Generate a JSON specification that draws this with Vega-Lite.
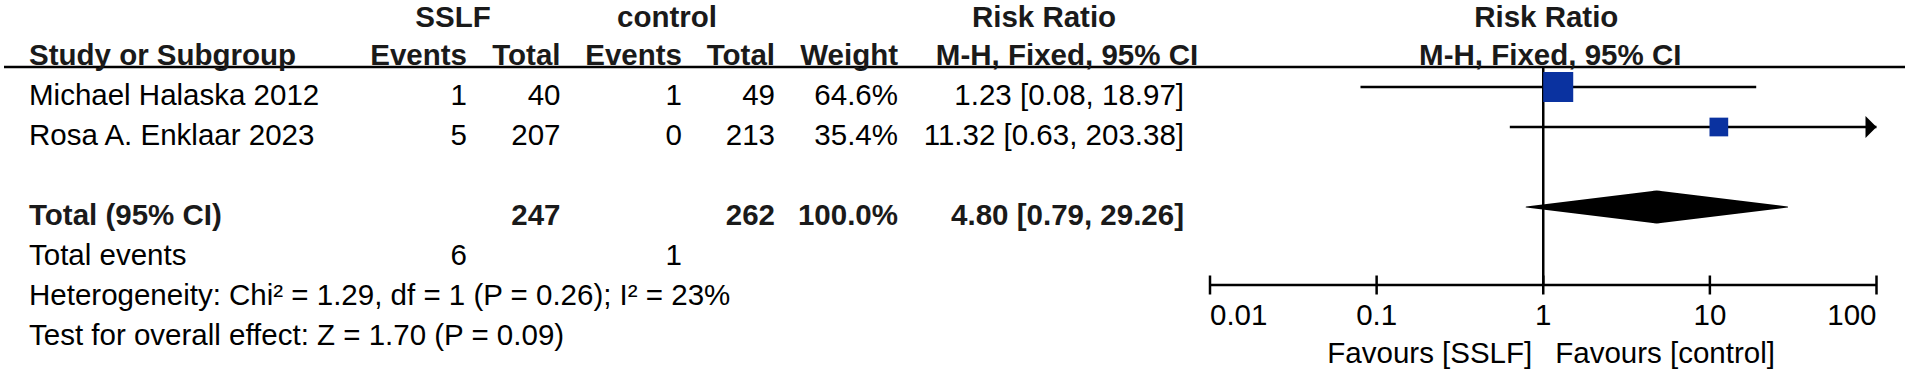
{
  "$schema": "https://vega.github.io/schema/vega-lite/v6.json",
  "width": 1901,
  "height": 371,
  "padding": {"left": 4, "top": 0, "right": 3, "bottom": 0},
  "autosize": {"type": "none"},
  "background": "white",
  "config": {
    "view": {"stroke": null},
    "text": {"font": "Liberation Sans", "fontSize": 29.5, "baseline": "alphabetic", "fill": "#000"}
  },
  "datasets": {
    "cells": [
      {"row": "h1", "column": 1, "text": "SSLF"},
      {"row": "h1", "column": 4, "text": "control"},
      {"row": "h1", "column": 8, "text": "Risk Ratio"},
      {"row": "h2", "column": 0, "text": "Study or Subgroup"},
      {"row": "h2", "column": 2, "text": "Events"},
      {"row": "h2", "column": 3, "text": "Total"},
      {"row": "h2", "column": 5, "text": "Events"},
      {"row": "h2", "column": 6, "text": "Total"},
      {"row": "h2", "column": 7, "text": "Weight"},
      {"row": "h2", "column": 9, "text": "M-H, Fixed, 95% CI"},
      {"row": "r1", "column": 0, "text": "Michael Halaska 2012"},
      {"row": "r1", "column": 2, "text": "1"},
      {"row": "r1", "column": 3, "text": "40"},
      {"row": "r1", "column": 5, "text": "1"},
      {"row": "r1", "column": 6, "text": "49"},
      {"row": "r1", "column": 7, "text": "64.6%"},
      {"row": "r1", "column": 10, "text": "1.23 [0.08, 18.97]"},
      {"row": "r2", "column": 0, "text": "Rosa A. Enklaar 2023"},
      {"row": "r2", "column": 2, "text": "5"},
      {"row": "r2", "column": 3, "text": "207"},
      {"row": "r2", "column": 5, "text": "0"},
      {"row": "r2", "column": 6, "text": "213"},
      {"row": "r2", "column": 7, "text": "35.4%"},
      {"row": "r2", "column": 10, "text": "11.32 [0.63, 203.38]"},
      {"row": "total", "column": 0, "text": "Total (95% CI)"},
      {"row": "total", "column": 3, "text": "247"},
      {"row": "total", "column": 6, "text": "262"},
      {"row": "total", "column": 7, "text": "100.0%"},
      {"row": "total", "column": 10, "text": "4.80 [0.79, 29.26]"},
      {"row": "events", "column": 0, "text": "Total events"},
      {"row": "events", "column": 2, "text": "6"},
      {"row": "events", "column": 5, "text": "1"},
      {"row": "het", "column": 0, "text": "Heterogeneity: Chi² = 1.29, df = 1 (P = 0.26); I² = 23%"},
      {"row": "test", "column": 0, "text": "Test for overall effect: Z = 1.70 (P = 0.09)"}
    ],
    "studies": [
      {"row": "r1", "study": "Michael Halaska 2012", "rr": 1.23, "lo": 0.08, "hi": 18.97, "weight": 64.6},
      {"row": "r2", "study": "Rosa A. Enklaar 2023", "rr": 11.32, "lo": 0.63, "hi": 203.38, "weight": 35.4}
    ],
    "pooled": [
      {"row": "total", "value": 0.79, "vertex": "tip"},
      {"row": "total", "value": 4.80, "vertex": "centre"},
      {"row": "total", "value": 29.26, "vertex": "tip"}
    ],
    "nullLine": [{"rr": 1}],
    "forestHead": [
      {"row": "h1", "text": "Risk Ratio"},
      {"row": "h2", "text": "M-H, Fixed, 95% CI"}
    ],
    "ticks": [
      {"value": 0.01, "label": "0.01"},
      {"value": 0.1, "label": "0.1"},
      {"value": 1, "label": "1"},
      {"value": 10, "label": "10"},
      {"value": 100, "label": "100"}
    ],
    "favours": [
      {"favours": "SSLF", "label": "Favours [SSLF]"},
      {"favours": "control", "label": "Favours [control]"}
    ]
  },
  "encoding": {
    "y": {
      "field": "row", "type": "ordinal",
      "scale": {"type": "point", "domain": ["h1", "h2", "r1", "r2", "gap", "total", "events", "het", "test", "fav"], "range": [7, 367], "padding": 0},
      "axis": null
    }
  },
  "resolve": {"scale": {"x": "independent", "size": "independent"}},
  "layer": [
    {
      "data": {"name": "cells"},
      "transform": [{"filter": "datum.row == 'h2' && datum.column == 0"}],
      "mark": {"type": "rule", "strokeWidth": 2.5, "color": "#000", "yOffset": 20},
      "encoding": {}
    },
    {
      "data": {"name": "cells"},
      "transform": [{"filter": "datum.column == 0 && datum.row != 'h2' && datum.row != 'total'"}],
      "mark": {"type": "text", "align": "left", "dy": 18},
      "encoding": {
        "x": {"field": "column", "type": "quantitative", "scale": {"type": "linear", "domain": [0,1,2,3,4,5,6,7,8,9,10], "range": [25,449,463,556.5,663,678,771,894,1040,1063,1180], "nice": false, "zero": false}, "axis": null},
        "text": {"field": "text"}
      }
    },
    {
      "data": {"name": "cells"},
      "transform": [{"filter": "datum.column == 0 && (datum.row == 'h2' || datum.row == 'total')"}],
      "mark": {"type": "text", "align": "left", "dy": 18, "fontWeight": "bold", "fill": "#1a1a1a"},
      "encoding": {
        "x": {"field": "column", "type": "quantitative", "scale": {"type": "linear", "domain": [0,1,2,3,4,5,6,7,8,9,10], "range": [25,449,463,556.5,663,678,771,894,1040,1063,1180], "nice": false, "zero": false}, "axis": null},
        "text": {"field": "text"}
      }
    },
    {
      "data": {"name": "cells"},
      "transform": [{"filter": "indexof([2,3,5,6,7,10], datum.column) >= 0 && indexof(['r1','r2','events'], datum.row) >= 0"}],
      "mark": {"type": "text", "align": "right", "dy": 18},
      "encoding": {
        "x": {"field": "column", "type": "quantitative", "scale": {"type": "linear", "domain": [0,1,2,3,4,5,6,7,8,9,10], "range": [25,449,463,556.5,663,678,771,894,1040,1063,1180], "nice": false, "zero": false}, "axis": null},
        "text": {"field": "text"}
      }
    },
    {
      "data": {"name": "cells"},
      "transform": [{"filter": "indexof([2,3,5,6,7,10], datum.column) >= 0 && indexof(['h2','total'], datum.row) >= 0"}],
      "mark": {"type": "text", "align": "right", "dy": 18, "fontWeight": "bold", "fill": "#1a1a1a"},
      "encoding": {
        "x": {"field": "column", "type": "quantitative", "scale": {"type": "linear", "domain": [0,1,2,3,4,5,6,7,8,9,10], "range": [25,449,463,556.5,663,678,771,894,1040,1063,1180], "nice": false, "zero": false}, "axis": null},
        "text": {"field": "text"}
      }
    },
    {
      "data": {"name": "cells"},
      "transform": [{"filter": "indexof([1,4,8,9], datum.column) >= 0 && datum.row == 'h1'"}],
      "mark": {"type": "text", "align": "center", "dy": 20, "fontWeight": "bold", "fill": "#1a1a1a"},
      "encoding": {
        "x": {"field": "column", "type": "quantitative", "scale": {"type": "linear", "domain": [0,1,2,3,4,5,6,7,8,9,10], "range": [25,449,463,556.5,663,678,771,894,1040,1063,1180], "nice": false, "zero": false}, "axis": null},
        "text": {"field": "text"}
      }
    },
    {
      "data": {"name": "cells"},
      "transform": [{"filter": "indexof([1,4,8,9], datum.column) >= 0 && datum.row == 'h2'"}],
      "mark": {"type": "text", "align": "center", "dy": 18, "fontWeight": "bold", "fill": "#1a1a1a"},
      "encoding": {
        "x": {"field": "column", "type": "quantitative", "scale": {"type": "linear", "domain": [0,1,2,3,4,5,6,7,8,9,10], "range": [25,449,463,556.5,663,678,771,894,1040,1063,1180], "nice": false, "zero": false}, "axis": null},
        "text": {"field": "text"}
      }
    },
    {
      "data": {"name": "forestHead"},
      "transform": [{"filter": "datum.row == 'h1'"}],
      "mark": {"type": "text", "align": "center", "dy": 20, "dx": 3, "fontWeight": "bold", "fill": "#1a1a1a"},
      "encoding": {
        "x": {"datum": 1, "type": "quantitative", "scale": {"type": "log", "domain": [0.01, 100], "range": [1206, 1872.5], "clamp": true, "nice": false}, "axis": null},
        "text": {"field": "text"}
      }
    },
    {
      "data": {"name": "forestHead"},
      "transform": [{"filter": "datum.row == 'h2'"}],
      "mark": {"type": "text", "align": "center", "dy": 18, "dx": 7, "fontWeight": "bold", "fill": "#1a1a1a"},
      "encoding": {
        "x": {"datum": 1, "type": "quantitative", "scale": {"type": "log", "domain": [0.01, 100], "range": [1206, 1872.5], "clamp": true, "nice": false}, "axis": null},
        "text": {"field": "text"}
      }
    },
    {
      "data": {"name": "studies"},
      "mark": {"type": "rule", "strokeWidth": 2.5, "color": "#000"},
      "encoding": {
        "x": {"field": "lo", "type": "quantitative", "scale": {"type": "log", "domain": [0.01, 100], "range": [1206, 1872.5], "clamp": true, "nice": false}, "axis": null},
        "x2": {"field": "hi"}
      }
    },
    {
      "data": {"name": "studies"},
      "transform": [{"filter": "datum.hi > 100"}],
      "mark": {"type": "point", "shape": "M-1,-1L0,0L-1,1Z", "size": 484, "filled": true, "color": "#000", "opacity": 1, "strokeWidth": 0},
      "encoding": {
        "x": {"field": "hi", "type": "quantitative", "scale": {"type": "log", "domain": [0.01, 100], "range": [1206, 1872.5], "clamp": true, "nice": false}, "axis": null}
      }
    },
    {
      "data": {"name": "nullLine"},
      "mark": {"type": "rule", "strokeWidth": 2.5, "color": "#000", "yOffset": 20, "y2Offset": -2},
      "encoding": {
        "x": {"field": "rr", "type": "quantitative", "scale": {"type": "log", "domain": [0.01, 100], "range": [1206, 1872.5], "clamp": true, "nice": false}, "axis": null},
        "y": {"datum": "h2", "type": "ordinal"},
        "y2": {"datum": "het"}
      }
    },
    {
      "data": {"name": "studies"},
      "mark": {"type": "point", "shape": "square", "filled": true, "color": "#0a32a0", "opacity": 1, "strokeWidth": 0},
      "encoding": {
        "x": {"field": "rr", "type": "quantitative", "scale": {"type": "log", "domain": [0.01, 100], "range": [1206, 1872.5], "clamp": true, "nice": false}, "axis": null},
        "size": {"field": "weight", "type": "quantitative", "scale": {"type": "pow", "exponent": 1.57, "domain": [0, 64.6], "range": [0, 900]}, "legend": null}
      }
    },
    {
      "data": {"name": "pooled"},
      "mark": {"type": "trail", "color": "#000", "opacity": 1},
      "encoding": {
        "x": {"field": "value", "type": "quantitative", "scale": {"type": "log", "domain": [0.01, 100], "range": [1206, 1872.5], "clamp": true, "nice": false}, "axis": null},
        "size": {"field": "vertex", "type": "ordinal", "scale": {"type": "point", "domain": ["tip", "centre"], "range": [0, 33], "padding": 0}, "legend": null}
      }
    },
    {
      "data": {"name": "ticks"},
      "mark": {"type": "rule", "strokeWidth": 2.5, "color": "#000", "yOffset": -2},
      "encoding": {
        "x": {"aggregate": "min", "field": "value", "type": "quantitative", "scale": {"type": "log", "domain": [0.01, 100], "range": [1206, 1872.5], "clamp": true, "nice": false}, "axis": null},
        "x2": {"aggregate": "max", "field": "value"},
        "y": {"datum": "het", "type": "ordinal"}
      }
    },
    {
      "data": {"name": "ticks"},
      "mark": {"type": "tick", "size": 19, "thickness": 2.5, "color": "#000", "opacity": 1, "yOffset": -2},
      "encoding": {
        "x": {"field": "value", "type": "quantitative", "scale": {"type": "log", "domain": [0.01, 100], "range": [1206, 1872.5], "clamp": true, "nice": false}, "axis": null},
        "y": {"datum": "het", "type": "ordinal"}
      }
    },
    {
      "data": {"name": "ticks"},
      "transform": [{"filter": "datum.value > 0.01 && datum.value < 100"}],
      "mark": {"type": "text", "align": "center", "dy": -2},
      "encoding": {
        "x": {"field": "value", "type": "quantitative", "scale": {"type": "log", "domain": [0.01, 100], "range": [1206, 1872.5], "clamp": true, "nice": false}, "axis": null},
        "y": {"datum": "test", "type": "ordinal"},
        "text": {"field": "label"}
      }
    },
    {
      "data": {"name": "ticks"},
      "transform": [{"filter": "datum.value <= 0.01"}],
      "mark": {"type": "text", "align": "left", "dy": -2},
      "encoding": {
        "x": {"field": "value", "type": "quantitative", "scale": {"type": "log", "domain": [0.01, 100], "range": [1206, 1872.5], "clamp": true, "nice": false}, "axis": null},
        "y": {"datum": "test", "type": "ordinal"},
        "text": {"field": "label"}
      }
    },
    {
      "data": {"name": "ticks"},
      "transform": [{"filter": "datum.value >= 100"}],
      "mark": {"type": "text", "align": "right", "dy": -2},
      "encoding": {
        "x": {"field": "value", "type": "quantitative", "scale": {"type": "log", "domain": [0.01, 100], "range": [1206, 1872.5], "clamp": true, "nice": false}, "axis": null},
        "y": {"datum": "test", "type": "ordinal"},
        "text": {"field": "label"}
      }
    },
    {
      "data": {"name": "favours"},
      "transform": [{"filter": "datum.favours == 'SSLF'"}],
      "mark": {"type": "text", "align": "right", "dy": -4, "dx": -11},
      "encoding": {
        "x": {"datum": 1, "type": "quantitative", "scale": {"type": "log", "domain": [0.01, 100], "range": [1206, 1872.5], "clamp": true, "nice": false}, "axis": null},
        "y": {"datum": "fav", "type": "ordinal"},
        "text": {"field": "label"}
      }
    },
    {
      "data": {"name": "favours"},
      "transform": [{"filter": "datum.favours == 'control'"}],
      "mark": {"type": "text", "align": "left", "dy": -4, "dx": 12},
      "encoding": {
        "x": {"datum": 1, "type": "quantitative", "scale": {"type": "log", "domain": [0.01, 100], "range": [1206, 1872.5], "clamp": true, "nice": false}, "axis": null},
        "y": {"datum": "fav", "type": "ordinal"},
        "text": {"field": "label"}
      }
    }
  ]
}
